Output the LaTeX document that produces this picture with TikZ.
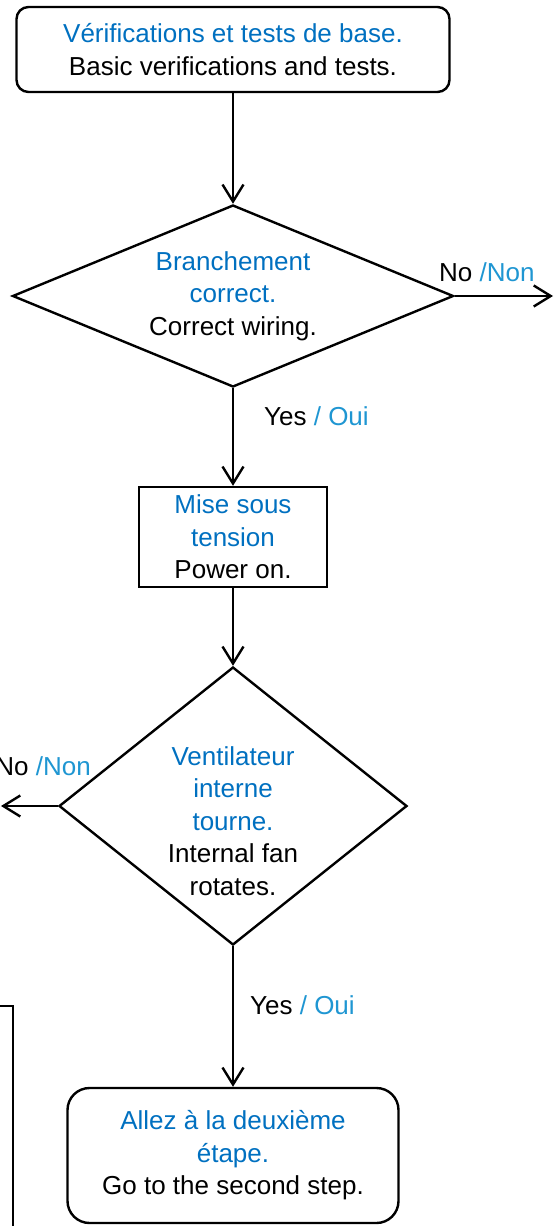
\documentclass[tikz,border=0pt]{standalone}
\usepackage{fontspec}
\setmainfont{Liberation Sans}
\usetikzlibrary{shapes.geometric,arrows.meta}
\definecolor{frblue}{RGB}{0,112,192}
\definecolor{frlight}{RGB}{31,150,210}
\newcommand{\frtxt}[1]{\textcolor{frblue}{#1}}
\newcommand{\frlbl}[1]{\textcolor{frlight}{#1}}
\begin{document}
\begin{tikzpicture}[x=1pt,y=-1pt,line width=2.4pt]
	\tikzstyle{every node}+=[inner sep=0pt,align=center,font=\fontsize{26}{32.5}\selectfont]
	\tikzstyle{endbox}=[draw,rectangle,rounded corners=12pt]
	\tikzstyle{stepbox}=[draw,rectangle]
	\tikzstyle{test}=[draw,diamond]
	\tikzstyle{arr}=[-{Straight Barb[length=17pt,width=21pt]}]
	\useasboundingbox (0,0) rectangle (554,1226);
	\clip (0,0) rectangle (554,1226);
	\node[endbox,minimum width=433pt,minimum height=85pt] (start) at (233,49.5) {\frtxt{Vérifications et tests de base.}\\Basic verifications and tests.};
	\node[test,aspect=2.42,minimum width=441pt,minimum height=182pt] (wiring) at (233,296) {\frtxt{Branchement}\\\frtxt{correct.}\\Correct wiring.};
	\node[stepbox,minimum width=188pt,minimum height=100pt] (power) at (233,537) {\frtxt{Mise sous}\\\frtxt{tension}\\Power on.};
	\node[test,aspect=1.25,minimum width=348pt,minimum height=278pt] (fan) at (233,806) {};
	\node (fantext) at (233,821) {\frtxt{Ventilateur}\\\frtxt{interne}\\\frtxt{tourne.}\\Internal fan\\rotates.};
	\node[endbox,rounded corners=22pt,minimum width=331pt,minimum height=135pt] (next) at (233,1155.5) {\frtxt{Allez à la deuxième}\\\frtxt{étape.}\\Go to the second step.};
	\node[stepbox,anchor=north east,minimum width=100pt,minimum height=300pt] (prev) at (14,1005) {};
	\coordinate (nowiring) at (553,296);
	\coordinate (nofan) at (1,806);
	\node[anchor=west] (nolabela) at (438,272) {No \frlbl{/Non}};
	\node[anchor=west] (yeslabela) at (263,416) {Yes \frlbl{/ Oui}};
	\node[anchor=east] (nolabelb) at (92,766) {No \frlbl{/Non}};
	\node[anchor=west] (yeslabelb) at (249,1005) {Yes \frlbl{/ Oui}};
	\draw[arr] (start) -- (wiring);
	\draw[arr] (wiring) -- (power);
	\draw[arr] (wiring.east) -- (nowiring);
	\draw[arr] (power) -- (fan);
	\draw[arr] (fan.west) -- (nofan);
	\draw[arr] (fan) -- (next);
\end{tikzpicture}
\end{document}
